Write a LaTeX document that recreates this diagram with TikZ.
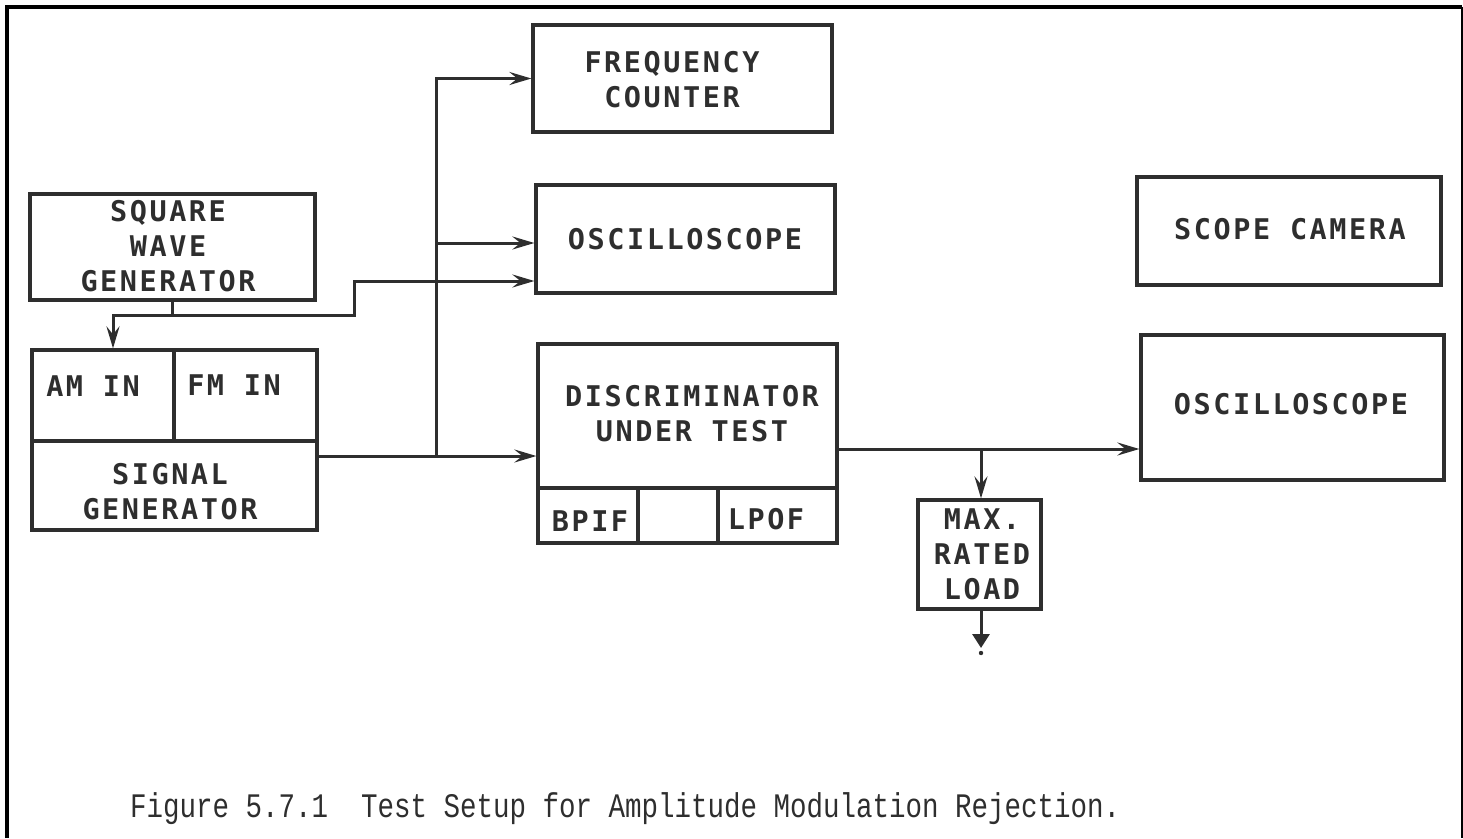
\documentclass[tikz,border=0pt]{standalone}
\usepackage{fontspec}
\newfontfamily\plotfont[LetterSpace=9]{DejaVu Sans Mono}
\newfontfamily\capfont{Liberation Mono}
\usetikzlibrary{arrows.meta,calc}
\definecolor{ink}{HTML}{2E2E2E}
\begin{document}
\begin{tikzpicture}[x=1pt,y=-1pt,
  box/.style={draw=ink, line width=3.2pt, inner sep=0pt},
  lbl/.style={font=\plotfont\bfseries\fontsize{28.5}{35}\selectfont, align=center, inner sep=0pt, text=ink},
  wire/.style={draw=ink, line width=3pt},
  arr/.style={wire, -{Stealth[length=22pt,width=13pt,inset=8pt]}}]
\useasboundingbox (0,0) rectangle (1463,838);
\draw[line width=3.5pt] (7,838) -- (7,7) -- (1462,7);
\draw[line width=2pt] (1462,7) -- (1462,838);

% boxes
\node[box, minimum width=299pt, minimum height=107pt] (FC) at (682.5,78.5) {};
\node[box, minimum width=299pt, minimum height=108pt] (OSC1) at (685.5,239) {};
\node[box, minimum width=285pt, minimum height=106pt] (SQW) at (172.5,247) {};
\node[box, minimum width=285pt, minimum height=180pt] (SIG) at (174.5,440) {};
\node[box, minimum width=299pt, minimum height=199pt] (DISC) at (687.5,443.5) {};
\node[box, minimum width=304pt, minimum height=108pt] (CAM) at (1289,231) {};
\node[box, minimum width=303pt, minimum height=145pt] (OSC2) at (1292.5,407.5) {};
\node[box, minimum width=123pt, minimum height=109pt] (LOAD) at (979.5,554.5) {};

% internal dividers
\draw[box] (SIG.west |- 0,441) -- (SIG.east |- 0,441);
\draw[box] (SIG.north -| 174,0) -- (174,441);
\draw[box] (DISC.west |- 0,488) -- (DISC.east |- 0,488);
\draw[box] (638,488) -- (DISC.south -| 638,0);
\draw[box] (718,488) -- (DISC.south -| 718,0);

% labels
\node[lbl] (tFC) at (672,79.5) {FREQUENCY\\COUNTER};
\node[lbl] (tO1) at (685,239) {OSCILLOSCOPE};
\node[lbl] (tSQ) at (168,246) {SQUARE\\WAVE\\GENERATOR};
\node[lbl] (tAM) at (93,386) {AM IN};
\node[lbl] (tFM) at (234,385) {FM IN};
\node[lbl] (tSG) at (170,492) {SIGNAL\\GENERATOR};
\node[lbl] (tDI) at (692,414) {DISCRIMINATOR\\UNDER TEST};
\node[lbl] (tBP) at (590,521) {BPIF};
\node[lbl] (tLP) at (766,519) {LPOF};
\node[lbl] (tCA) at (1290,229) {SCOPE CAMERA};
\node[lbl] (tO2) at (1291,404) {OSCILLOSCOPE};
\node[lbl] (tLD) at (982,554) {MAX.\\RATED\\LOAD};

% connectors
\coordinate (sL) at (113,315);
\coordinate (sR) at (354,281);
\draw[wire] (SQW.south) -- (SQW.south |- sL);
\draw[arr] (SQW.south |- sL) -- (sL) -- (SIG.north -| sL);
\draw[arr] (SQW.south |- sL) -| (sR) -- (OSC1.west |- sR);

\coordinate (j1) at (436,456);
\coordinate (j2) at (436,243);
\draw[arr] (SIG.east |- j1) -- (DISC.west |- j1);
\draw[arr] (j1) |- (FC.west);
\draw[arr] (j2) -- (OSC1.west |- j2);

\coordinate (j3) at (981,449);
\coordinate (gnd) at (981,648);
\draw[arr] (DISC.east |- j3) -- (OSC2.west |- j3);
\draw[arr] (j3) -- (LOAD.north -| j3);
\draw[wire, -{Triangle[length=14pt,width=17pt]}] (LOAD.south -| gnd) -- (gnd);
\fill[ink] (981,653) circle (2.2pt);

% caption
\node[anchor=base west, inner sep=0pt, font=\capfont\fontsize{27.5}{30}\selectfont, text=ink] (cap) at (130,817)
  {\scalebox{1}[1.25]{Figure 5.7.1\ \ Test Setup for Amplitude Modulation Rejection.}};
\end{tikzpicture}
\end{document}
